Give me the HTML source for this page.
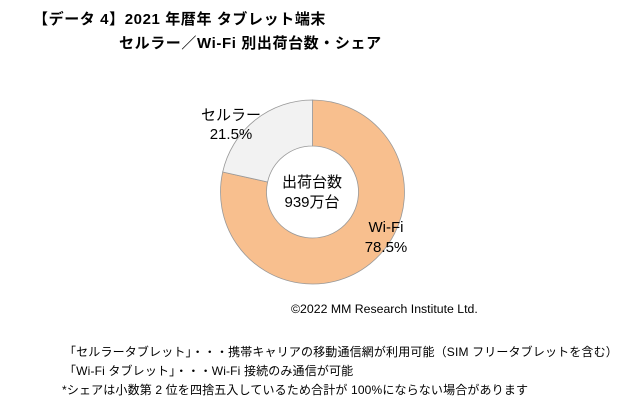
<!DOCTYPE html>
<html><head><meta charset="utf-8"><style>
body{margin:0;background:#fff;width:621px;height:412px;overflow:hidden;font-family:"Liberation Sans","Noto Sans CJK JP",sans-serif;color:#000}
.t{position:absolute;font-weight:bold;font-size:15px;letter-spacing:0.6px;white-space:nowrap}
.n{position:absolute;font-size:12px;letter-spacing:0.15px;white-space:nowrap}
</style></head><body>
<div class="t" style="left:33px;top:8px">【データ 4】2021 年暦年 タブレット端末</div>
<div class="t" style="left:119px;top:32px">セルラー／Wi-Fi 別出荷台数・シェア</div>
<svg width="621" height="412" style="position:absolute;left:0;top:0">
<path d="M312.5,100 A92,92 0 1,1 222.7,172 L267.6,182 A46,46 0 1,0 312.5,146 Z" fill="#f8bf8e" stroke="#999" stroke-width="0.8"/>
<path d="M312.5,100 A92,92 0 0,0 222.7,172 L267.6,182 A46,46 0 0,1 312.5,146 Z" fill="#f2f2f2" stroke="#999" stroke-width="0.8"/>
<g font-size="15" font-family="Liberation Sans,Noto Sans CJK JP,sans-serif" text-anchor="middle">
<text x="231" y="120">セルラー</text><text x="231" y="139">21.5%</text>
<text x="312" y="187">出荷台数</text><text x="312" y="207">939万台</text>
<text x="386" y="232">Wi-Fi</text><text x="386" y="252">78.5%</text>
</g>
<text x="291" y="313" font-size="12.3" font-family="Liberation Sans,sans-serif">©2022  MM Research Institute Ltd.</text>
</svg>
<div class="n" style="left:64px;top:343px">「セルラータブレット」・・・携帯キャリアの移動通信網が利用可能（SIM フリータブレットを含む）</div>
<div class="n" style="left:64px;top:362px">「Wi-Fi タブレット」・・・Wi-Fi 接続のみ通信が可能</div>
<div class="n" style="left:62px;top:381px">*シェアは小数第 2 位を四捨五入しているため合計が 100%にならない場合があります</div>
</body></html>
